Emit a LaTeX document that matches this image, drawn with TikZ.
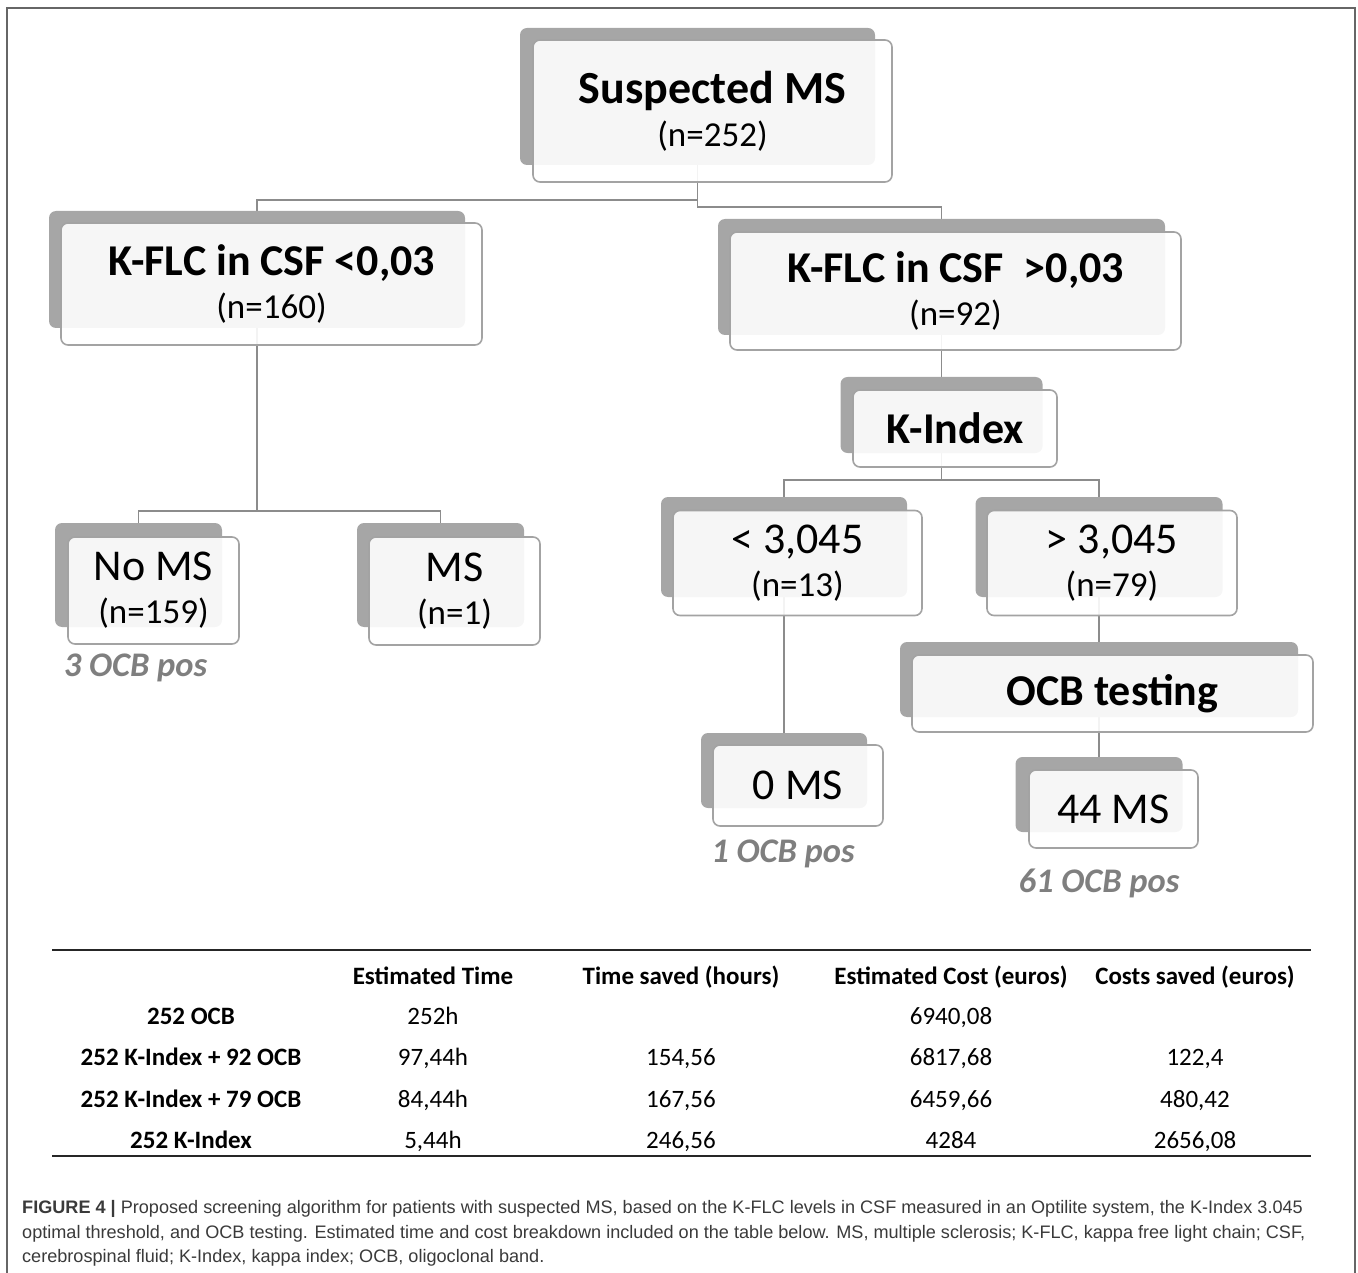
\documentclass[tikz,border=0pt]{standalone}
\usepackage{fontspec}
\setmainfont{Carlito}
\newfontfamily\capfont{Liberation Sans}
\pgfdeclarelayer{background}
\pgfsetlayers{background,main}

\definecolor{shadowgray}{HTML}{A6A6A6}
\definecolor{linegray}{HTML}{8C8C8C}
\definecolor{boxline}{HTML}{A3A3A3}
\definecolor{labelgray}{HTML}{7F7F7F}
\definecolor{capgray}{HTML}{3A3A3A}
\newcommand{\nsize}{\fontsize{35}{43}\selectfont}

\begin{document}
\begin{tikzpicture}[x=1pt,y=-1pt,
		shadow_style/.style={rectangle,rounded corners=7pt,fill=shadowgray,inner sep=0pt},
		box_style/.style={rectangle,rounded corners=7pt,draw=boxline,line width=1.6pt,fill=white,fill opacity=0.9,text opacity=1,inner sep=0pt,align=center,font=\fontsize{44}{43}\selectfont},
		pos_style/.style={anchor=base,text=labelgray,font=\fontsize{34.5}{38}\selectfont\bfseries\itshape},
		edge_style/.style={draw=linegray,line width=1.8pt},
		head_style/.style={anchor=base,font=\fontsize{25}{30}\selectfont\bfseries},
		cell_style/.style={anchor=base,font=\fontsize{25}{30}\selectfont},
		tab_rule/.style={draw=black!85,line width=2.6pt},
		cap_style/.style={anchor=base west,inner sep=0pt,text=capgray,font=\capfont\fontsize{18.1}{20}\selectfont}]

		\useasboundingbox (0,0) rectangle (1358,1273);
		\draw[draw=black!60,line width=2pt] (7,1273) -- (7,8) -- (1355,8) -- (1355,1273);

		% tree
		\node[shadow_style,minimum width=355pt,minimum height=137pt] (s_susp) at (697.5,96.5) {};
		\node[box_style,minimum width=359pt,minimum height=142pt] (susp) at (712.5,111) {{\bfseries\fontsize{46}{43}\selectfont Suspected MS}\\{\nsize (n=252)}};

		\node[shadow_style,minimum width=416pt,minimum height=117pt] (s_flc_low) at (257,269.5) {};
		\node[box_style,minimum width=421pt,minimum height=122pt] (flc_low) at (271.5,284) {{\bfseries K-FLC in CSF <0,03}\\{\nsize (n=160)}};

		\node[shadow_style,minimum width=447pt,minimum height=116pt] (s_flc_high) at (941.5,277) {};
		\node[box_style,minimum width=451pt,minimum height=118pt] (flc_high) at (955.5,291) {{\bfseries K-FLC in CSF\ \ >0,03}\\{\nsize (n=92)}};

		\node[shadow_style,minimum width=202pt,minimum height=76pt] (s_kindex) at (941.5,415) {};
		\node[box_style,minimum width=204pt,minimum height=77pt] (kindex) at (955,428.5) {\bfseries K-Index};

		\node[shadow_style,minimum width=246pt,minimum height=100pt] (s_ki_low) at (784,547) {};
		\node[box_style,minimum width=249pt,minimum height=105pt] (ki_low) at (797.5,563) {< 3,045\\{\nsize (n=13)}};

		\node[shadow_style,minimum width=247pt,minimum height=100pt] (s_ki_high) at (1099,547) {};
		\node[box_style,minimum width=250pt,minimum height=105pt] (ki_high) at (1112,563) {> 3,045\\{\nsize (n=79)}};

		\node[shadow_style,minimum width=167pt,minimum height=104pt] (s_no_ms) at (138.5,575) {};
		\node[box_style,minimum width=171pt,minimum height=107pt] (no_ms) at (153.5,590.5) {No MS\\{\nsize (n=159)}};

		\node[shadow_style,minimum width=167pt,minimum height=104pt] (s_ms) at (440.5,575) {};
		\node[box_style,minimum width=171pt,minimum height=108pt] (ms) at (454.5,591) {MS\\{\nsize (n=1)}};

		\node[shadow_style,minimum width=398pt,minimum height=75pt] (s_ocb) at (1099,679.5) {};
		\node[box_style,minimum width=401pt,minimum height=77pt] (ocb) at (1112.5,693.5) {\bfseries OCB testing};

		\node[shadow_style,minimum width=166pt,minimum height=75pt] (s_zero_ms) at (784,770.5) {};
		\node[box_style,minimum width=170pt,minimum height=81pt] (zero_ms) at (798,785.5) {0 MS};

		\node[shadow_style,minimum width=167pt,minimum height=75pt] (s_ms44) at (1099,794.5) {};
		\node[box_style,minimum width=169pt,minimum height=78pt] (ms44) at (1113.5,809) {44 MS};

		\node[pos_style] (pos_no_ms) at (135.5,676) {3 OCB pos};
		\node[pos_style] (pos_zero_ms) at (783,862) {1 OCB pos};
		\node[pos_style] (pos_ms44) at (1099,892) {61 OCB pos};

		\begin{pgfonlayer}{background}
		\draw[edge_style] (s_susp.south) -- ++(0,35) -| (s_flc_low.north);
		\draw[edge_style] (s_susp.south) -- ++(0,42) -| (s_flc_high.north);
		\draw[edge_style] (s_flc_low.south) -- ++(0,183) -| (s_no_ms.north);
		\draw[edge_style] (s_flc_low.south) -- ++(0,183) -| (s_ms.north);
		\draw[edge_style] (s_flc_high.south) -- (s_kindex.north);
		\draw[edge_style] (s_kindex.south) -- ++(0,27) -| (s_ki_low.north);
		\draw[edge_style] (s_kindex.south) -- ++(0,27) -| (s_ki_high.north);
		\draw[edge_style] (s_ki_low.south) -- (s_zero_ms.north);
		\draw[edge_style] (s_ki_high.south) -- (s_ocb.north);
		\draw[edge_style] (s_ocb.south) -- (s_ms44.north);
		\end{pgfonlayer}

		% table
		\draw[tab_rule] (52,950) -- (1311,950);
		\draw[tab_rule] (52,1156) -- (1311,1156);

		\node[head_style] (h_time) at (433,984) {Estimated Time};
		\node[head_style] (h_tsaved) at (681,984) {Time saved (hours)};
		\node[head_style] (h_cost) at (951,984) {Estimated Cost (euros)};
		\node[head_style] (h_csaved) at (1195,984) {Costs saved (euros)};

		\node[head_style] (r1) at (191,1024) {252 OCB};
		\node[cell_style] (r1_time) at (433,1024) {252h};
		\node[cell_style] (r1_cost) at (951,1024) {6940,08};

		\node[head_style] (r2) at (191,1065) {252 K-Index + 92 OCB};
		\node[cell_style] (r2_time) at (433,1065) {97,44h};
		\node[cell_style] (r2_tsaved) at (681,1065) {154,56};
		\node[cell_style] (r2_cost) at (951,1065) {6817,68};
		\node[cell_style] (r2_csaved) at (1195,1065) {122,4};

		\node[head_style] (r3) at (191,1107) {252 K-Index + 79 OCB};
		\node[cell_style] (r3_time) at (433,1107) {84,44h};
		\node[cell_style] (r3_tsaved) at (681,1107) {167,56};
		\node[cell_style] (r3_cost) at (951,1107) {6459,66};
		\node[cell_style] (r3_csaved) at (1195,1107) {480,42};

		\node[head_style] (r4) at (191,1148) {252 K-Index};
		\node[cell_style] (r4_time) at (433,1148) {5,44h};
		\node[cell_style] (r4_tsaved) at (681,1148) {246,56};
		\node[cell_style] (r4_cost) at (951,1148) {4284};
		\node[cell_style] (r4_csaved) at (1195,1148) {2656,08};

		% caption
		\node[cap_style] (cap1) at (22,1213) {\textbf{FIGURE 4 |} Proposed screening algorithm for patients with suspected MS, based on the K-FLC levels in CSF measured in an Optilite system, the K-Index 3.045};
		\node[cap_style] (cap2) at (22,1238) {optimal threshold, and OCB testing. Estimated time and cost breakdown included on the table below. MS, multiple sclerosis; K-FLC, kappa free light chain; CSF,};
		\node[cap_style] (cap3) at (22,1262) {cerebrospinal fluid; K-Index, kappa index; OCB, oligoclonal band.};

		\end{tikzpicture}
\end{document}
